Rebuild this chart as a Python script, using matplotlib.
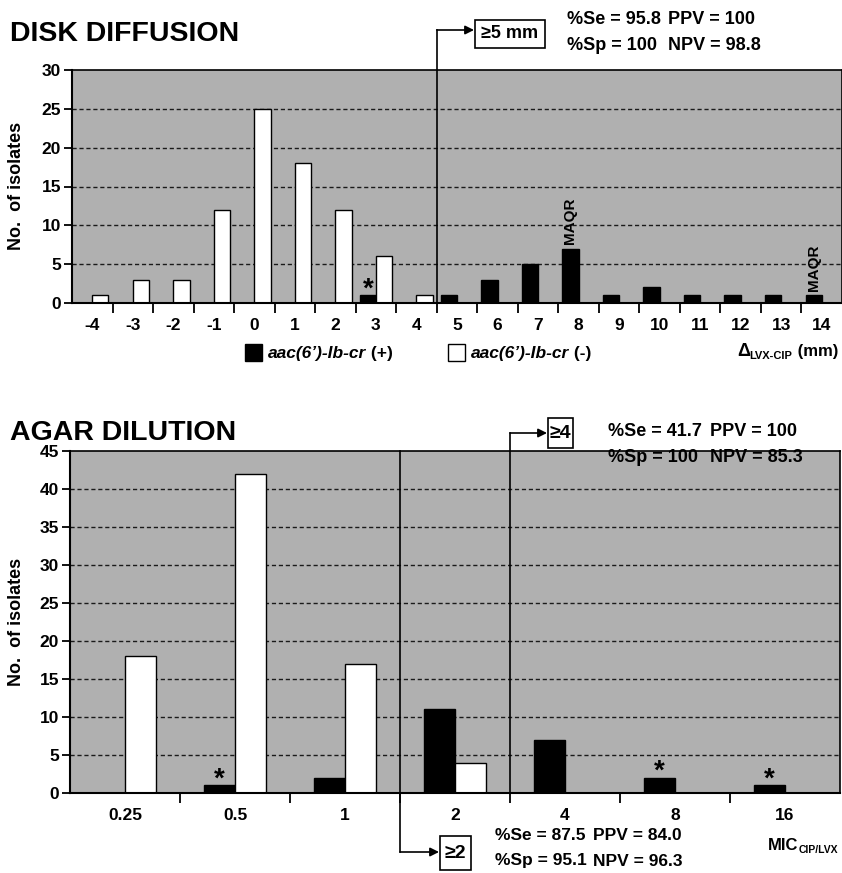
import matplotlib
matplotlib.use('Agg')
import matplotlib.pyplot as plt
from matplotlib.patches import Rectangle
import numpy as np

plt.rcParams['font.family'] = ['Liberation Sans', 'DejaVu Sans']
plt.rcParams['font.weight'] = 'bold'

# disk diffusion: delta LVX-CIP (mm)
disk_labels = ['-4', '-3', '-2', '-1', '0', '1', '2', '3', '4', '5',
               '6', '7', '8', '9', '10', '11', '12', '13', '14']
disk_pos = [0, 0, 0, 0, 0, 0, 0, 1, 0, 1, 3, 5, 7, 1, 2, 1, 1, 1, 1]
disk_neg = [1, 3, 3, 12, 25, 18, 12, 6, 1, 0, 0, 0, 0, 0, 0, 0, 0, 0, 0]
disk_star = ['3']
disk_maqr = ['8', '14']

# agar dilution: MIC CIP/LVX ratio
agar_labels = ['0.25', '0.5', '1', '2', '4', '8', '16']
agar_pos = [0, 1, 2, 11, 7, 2, 1]
agar_neg = [18, 42, 17, 4, 0, 0, 0]
agar_star = ['0.5', '8', '16']

W, H = 842, 873
GRAY = '#b0b0b0'


def fx(px):
    return px / W


def fy(py):
    return 1 - py / H


fig = plt.figure(figsize=(W / 100, H / 100), dpi=100)
rend = fig.canvas.get_renderer()


def style_ax(ax, labels, ymax, step):
    n = len(labels)
    ax.set_facecolor(GRAY)
    ax.set_xlim(-0.5, n - 0.5)
    ax.set_ylim(0, ymax)
    ax.set_yticks(range(0, ymax + 1, step))
    ax.set_xticks(np.arange(n))
    ax.set_xticklabels(labels)
    ax.set_xticks(np.arange(0.5, n - 1), minor=True)
    ax.tick_params(axis='x', which='major', length=0, pad=11, labelsize=12.5)
    ax.tick_params(axis='x', which='minor', length=7, width=1.3, direction='out')
    ax.tick_params(axis='y', length=6, width=1.3, pad=2, labelsize=12.5)
    for y in range(step, ymax, step):
        ax.axhline(y, color='#1a1a1a', ls=(0, (3, 2)), lw=1, zorder=0.5)
    for s in ax.spines.values():
        s.set_linewidth(1.5)
    ax.spines['top'].set_linewidth(1.2)
    ax.spines['right'].set_linewidth(1.2)


def draw_bars(ax, labels, pos, neg, w):
    x = np.arange(len(labels))
    pos = np.array(pos)
    neg = np.array(neg)
    m = pos > 0
    ax.bar(x[m] - w / 2, pos[m], w, color='black', edgecolor='black', lw=1, zorder=2)
    m = neg > 0
    ax.bar(x[m] + w / 2, neg[m], w, color='white', edgecolor='black', lw=1, zorder=2)


def put_runs(x, y, runs, ha='left'):
    # runs: (text, size, style, lower_px)
    items = []
    for s, size, style, dy in runs:
        t = fig.text(0, 0, s, fontsize=size, style=style, fontweight='bold', va='baseline')
        items.append((t, t.get_window_extent(rend).width, dy))
    total = sum(w for _, w, _ in items)
    cur = x - total if ha == 'right' else x
    for t, w, dy in items:
        t.set_position((fx(cur), fy(y + dy)))
        cur += w


def stats(x1, x2, y, lines, size=13):
    for i, (a, b) in enumerate(lines):
        fig.text(fx(x1), fy(y + i * 26), a, fontsize=size, va='center', ha='left')
        fig.text(fx(x2), fy(y + i * 26), b, fontsize=size, va='center', ha='left')


def boxed(x0, y0, x1, y1, s, size=13):
    fig.add_artist(Rectangle((fx(x0), fy(y1)), (x1 - x0) / W, (y1 - y0) / H,
                             transform=fig.transFigure, fc='white', ec='black', lw=1.2))
    fig.text(fx((x0 + x1) / 2), fy((y0 + y1) / 2), s, fontsize=size, ha='center', va='center')


def arrow_from(ax, tr, x, y, px, py):
    ax.annotate('', xy=(px, H - py), xycoords='figure pixels', xytext=(x, y), textcoords=tr,
                arrowprops=dict(arrowstyle='-|>', color='black', lw=1.2, shrinkA=0, shrinkB=0,
                                mutation_scale=13))


# ---------------- top: disk diffusion ----------------
ax1 = fig.add_axes([fx(72), fy(303), fx(842) - fx(72), (303 - 70) / H])
style_ax(ax1, disk_labels, 30, 5)
draw_bars(ax1, disk_labels, disk_pos, disk_neg, 0.4)
for lab in disk_star:
    i = disk_labels.index(lab)
    ax1.annotate('*', xy=(i - 0.2, disk_pos[i]), xytext=(0, -5), textcoords='offset points',
                 ha='center', va='bottom', fontsize=20)
for lab in disk_maqr:
    i = disk_labels.index(lab)
    ax1.annotate('MAQR', xy=(i - 0.2, disk_pos[i]), xytext=(0, 3), textcoords='offset points',
                 ha='center', va='bottom', rotation=90, fontsize=11)

fig.text(fx(10), fy(34), 'DISK DIFFUSION', fontsize=20.5, ha='left', va='center')
fig.text(fx(17), fy(186), 'No.  of isolates', fontsize=13, rotation=90, ha='center', va='center')

cut1 = disk_labels.index('5') - 0.5
tr1 = ax1.get_xaxis_transform()
ytop1 = (303 - 30) / (303 - 70)
ax1.plot([cut1, cut1], [0, ytop1], color='black', lw=1.2, transform=tr1, clip_on=False, zorder=3)
arrow_from(ax1, tr1, cut1, ytop1, 474, 30)
boxed(475, 20, 545, 48, '≥5 mm', size=13)
stats(567, 668, 20, [('%Se = 95.8', 'PPV = 100'), ('%Sp = 100', 'NPV = 98.8')])
put_runs(838, 356, [('Δ', 13, 'normal', 0), ('LVX-CIP', 8, 'normal', 3), (' (mm)', 12, 'normal', 0)],
         ha='right')

# legend
fig.add_artist(Rectangle((fx(245), fy(361)), 17 / W, 17 / H, transform=fig.transFigure,
                         fc='black', ec='black', lw=1))
put_runs(268, 358, [('aac(6’)-Ib-cr', 12.5, 'italic', 0), (' (+)', 12.5, 'normal', 0)])
fig.add_artist(Rectangle((fx(448), fy(361)), 17 / W, 17 / H, transform=fig.transFigure,
                         fc='white', ec='black', lw=1))
put_runs(471, 358, [('aac(6’)-Ib-cr', 12.5, 'italic', 0), (' (-)', 12.5, 'normal', 0)])

# ---------------- bottom: agar dilution ----------------
ax2 = fig.add_axes([fx(70), fy(793), fx(840) - fx(70), (793 - 451) / H])
style_ax(ax2, agar_labels, 45, 5)
draw_bars(ax2, agar_labels, agar_pos, agar_neg, 0.28)
for lab in agar_star:
    i = agar_labels.index(lab)
    ax2.annotate('*', xy=(i - 0.14, agar_pos[i]), xytext=(0, -5), textcoords='offset points',
                 ha='center', va='bottom', fontsize=20)

fig.text(fx(10), fy(433), 'AGAR DILUTION', fontsize=20.5, ha='left', va='center')
fig.text(fx(17), fy(622), 'No.  of isolates', fontsize=13, rotation=90, ha='center', va='center')

tr2 = ax2.get_xaxis_transform()
h2 = 793 - 451
cut2 = agar_labels.index('2') - 0.5
ylow = (793 - 852) / h2
ax2.plot([cut2, cut2], [1, ylow], color='black', lw=1.2, transform=tr2, clip_on=False, zorder=3)
arrow_from(ax2, tr2, cut2, ylow, 439, 852)
boxed(440, 836, 471, 870, '≥2', size=14)
stats(495, 593, 835, [('%Se = 87.5', 'PPV = 84.0'), ('%Sp = 95.1', 'NPV = 96.3')], size=12.5)

cut3 = agar_labels.index('4') - 0.5
ytop2 = (793 - 433) / h2
ax2.plot([cut3, cut3], [0, ytop2], color='black', lw=1.2, transform=tr2, clip_on=False, zorder=3)
arrow_from(ax2, tr2, cut3, ytop2, 547, 433)
boxed(548, 418, 573, 448, '≥4', size=14)
stats(608, 710, 432, [('%Se = 41.7', 'PPV = 100'), ('%Sp = 100', 'NPV = 85.3')])

put_runs(838, 850, [('MIC', 12, 'normal', 0), ('CIP/LVX', 7.5, 'normal', 3)], ha='right')

fig.savefig('out.png', dpi=100)
